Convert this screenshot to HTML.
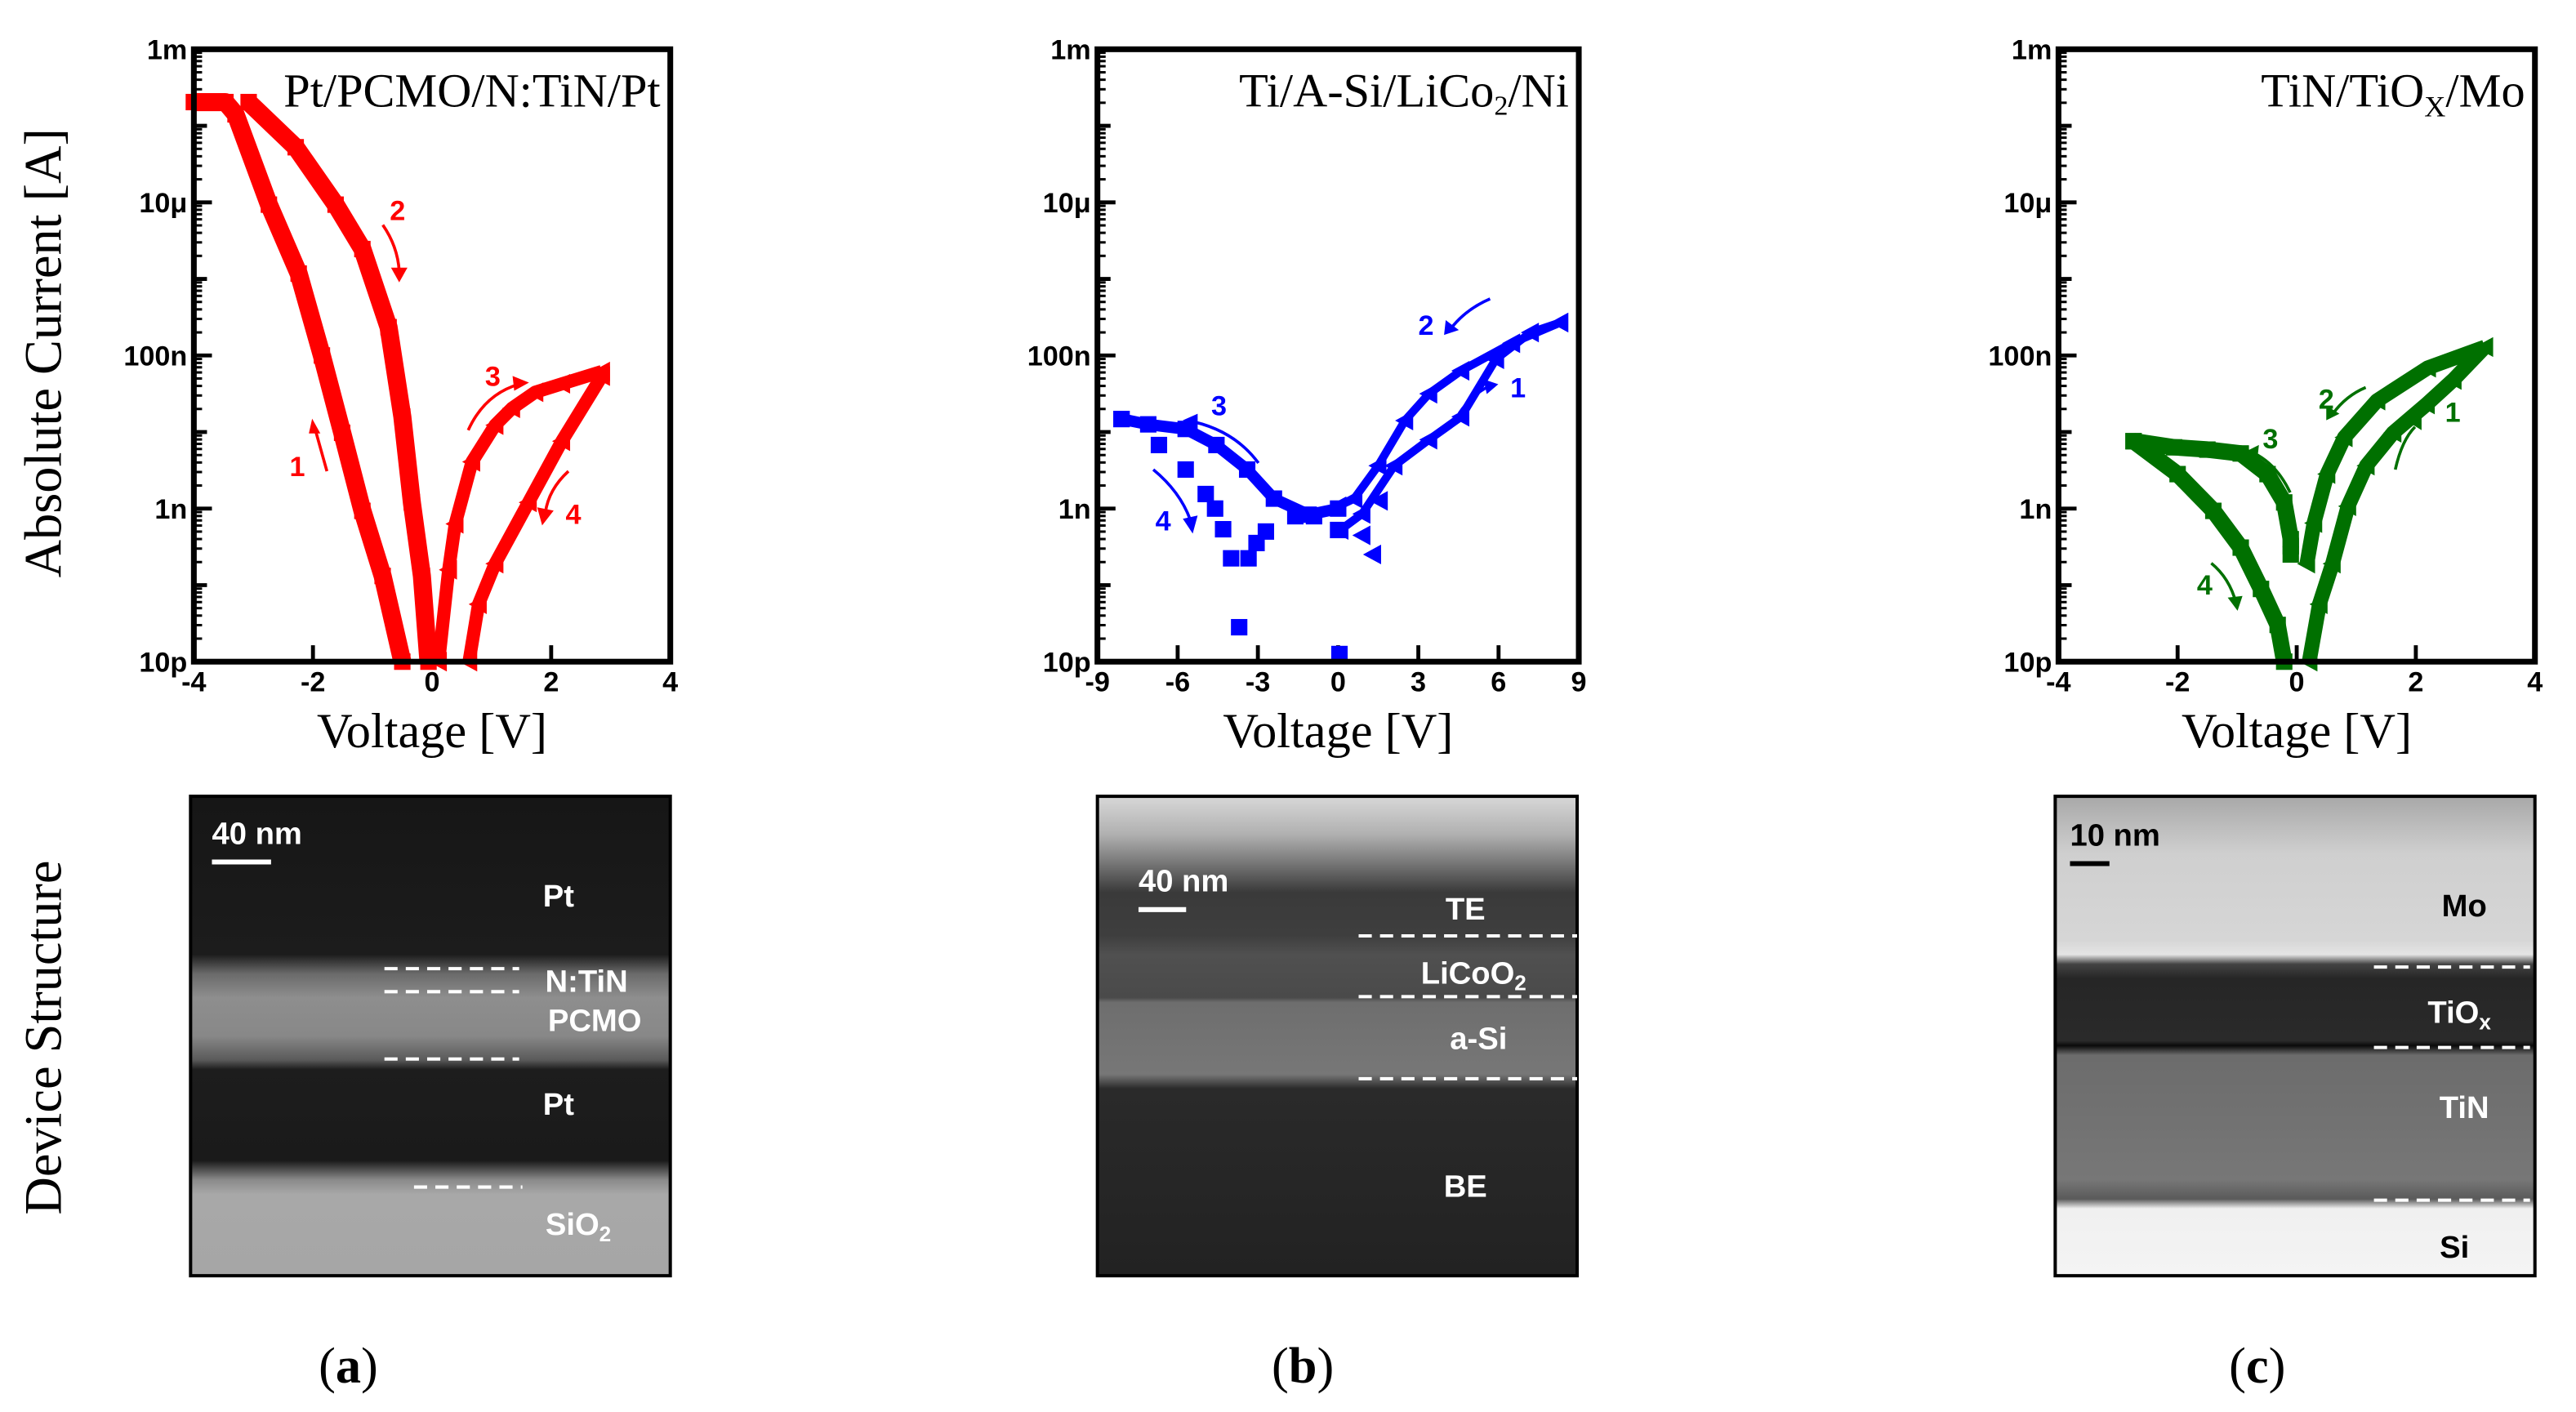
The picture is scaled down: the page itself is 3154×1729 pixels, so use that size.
<!DOCTYPE html>
<html><head><meta charset="utf-8"><style>
html,body{margin:0;padding:0;background:#fff;}
svg{display:block;}
.tk{font-family:"Liberation Sans Narrow","Liberation Sans",sans-serif;font-weight:bold;font-size:17px;}
.ser{font-family:"Liberation Serif",serif;}
.lab{font-family:"Liberation Sans Narrow","Liberation Sans",sans-serif;font-weight:bold;font-size:19px;}
</style></head><body>
<svg id="fig" width="3154" height="1729" viewBox="0 0 1568 860" preserveAspectRatio="none" xmlns="http://www.w3.org/2000/svg">
<defs>
<linearGradient id="gA" x1="0" y1="0" x2="0" y2="1">
<stop offset="0" stop-color="#161616"/><stop offset="0.33" stop-color="#1c1c1c"/><stop offset="0.37" stop-color="#6a6a6a"/><stop offset="0.42" stop-color="#8e8e8e"/><stop offset="0.5" stop-color="#888"/><stop offset="0.55" stop-color="#5a5a5a"/><stop offset="0.57" stop-color="#1d1d1d"/><stop offset="0.76" stop-color="#1a1a1a"/><stop offset="0.8" stop-color="#8a8a8a"/><stop offset="0.83" stop-color="#a8a8a8"/><stop offset="1" stop-color="#a6a6a6"/></linearGradient>
<linearGradient id="gB" x1="0" y1="0" x2="0" y2="1">
<stop offset="0" stop-color="#d8d8d8"/><stop offset="0.08" stop-color="#b0b0b0"/><stop offset="0.13" stop-color="#808080"/><stop offset="0.2" stop-color="#3a3a3a"/><stop offset="0.29" stop-color="#3e3e3e"/><stop offset="0.33" stop-color="#505050"/><stop offset="0.42" stop-color="#4a4a4a"/><stop offset="0.43" stop-color="#6e6e6e"/><stop offset="0.58" stop-color="#777"/><stop offset="0.61" stop-color="#2a2a2a"/><stop offset="1" stop-color="#222"/></linearGradient>
<linearGradient id="gC" x1="0" y1="0" x2="0" y2="1">
<stop offset="0" stop-color="#a8a8a8"/><stop offset="0.12" stop-color="#cfcfcf"/><stop offset="0.3" stop-color="#d6d6d6"/><stop offset="0.33" stop-color="#e4e4e4"/><stop offset="0.35" stop-color="#444"/><stop offset="0.38" stop-color="#262626"/><stop offset="0.51" stop-color="#2a2a2a"/><stop offset="0.52" stop-color="#0a0a0a"/><stop offset="0.54" stop-color="#6c6c6c"/><stop offset="0.8" stop-color="#777"/><stop offset="0.84" stop-color="#5a5a5a"/><stop offset="0.86" stop-color="#f0f0f0"/><stop offset="1" stop-color="#f4f4f4"/></linearGradient>
</defs>
<g id="charts"></g>
<g id="micro"></g>
<text class="ser" x="37" y="215" font-size="32" text-anchor="middle" transform="rotate(-90 37 215)">Absolute Current [A]</text>
<text class="ser" x="37" y="632" font-size="32" text-anchor="middle" transform="rotate(-90 37 632)">Device Structure</text>
<text class="ser" x="212" y="842" font-size="31" text-anchor="middle">(<tspan font-weight="bold">a</tspan>)</text>
<text class="ser" x="793" y="842" font-size="31" text-anchor="middle">(<tspan font-weight="bold">b</tspan>)</text>
<text class="ser" x="1374" y="842" font-size="31" text-anchor="middle">(<tspan font-weight="bold">c</tspan>)</text>
</svg>
<script>
// ---- data (log10 of current [A] vs voltage [V]) ----
const aB1V=[-4,-3.47,-3.3,-2.74,-2.24,-1.85,-1.51,-1.17,-0.83,-0.5];
const aB1I=[-3.69,-3.69,-3.85,-5.03,-5.93,-7.0,-8.01,-9.03,-9.88,-11];
const aB2V=[-3.08,-2.29,-1.62,-1.17,-0.73,-0.5,-0.34,-0.17,-0.06];
const aB2I=[-3.69,-4.28,-5.03,-5.61,-6.63,-7.8,-8.92,-9.88,-11];
const aB3V=[0.11,0.28,0.39,0.67,1.06,1.34,1.73,2.18,2.85];
const aB3I=[-11,-9.8,-9.2,-8.39,-7.91,-7.69,-7.48,-7.37,-7.21];
const aB4V=[2.85,2.18,1.62,1.06,0.78,0.62];
const aB4I=[-7.27,-8.12,-8.92,-9.72,-10.25,-11];

const bB1V=[0.08,0.9,2.1,3.4,4.6,5.9,7.2,8.3];
const bB1I=[-9.28,-9.07,-8.44,-8.1,-7.8,-7.05,-6.7,-6.57];
const bB2V=[8.3,6.5,4.6,3.4,2.5,1.5,0.6,0];
const bB2I=[-6.57,-6.84,-7.2,-7.5,-7.85,-8.44,-8.87,-8.97];
const bScatV=[1.55,0.9,1.3];
const bScatI=[-8.9,-9.35,-9.6];
const bB3V=[0,-1.1,-2.4,-3.4,-4.55,-5.7,-7.1,-8.1];
const bB3I=[-9.0,-9.08,-8.87,-8.49,-8.17,-7.96,-7.9,-7.83];
const bB4V=[-8.1,-6.7,-5.7,-4.95,-4.6,-4.3,-4.0,-3.7,-3.35,-3.05,-2.7,-1.6,-0.9,0,0.05];
const bB4I=[-7.83,-8.17,-8.49,-8.81,-9.0,-9.27,-9.65,-10.55,-9.65,-9.45,-9.3,-9.1,-9.1,-9.28,-10.9];

const cB1V=[0.21,0.38,0.6,0.86,1.17,1.62,2.18,2.63,3.16];
const cB1I=[-11,-10.25,-9.72,-8.97,-8.44,-8.01,-7.64,-7.32,-6.89];
const cB2V=[3.16,2.2,1.35,0.8,0.51,0.29,0.17];
const cB2I=[-6.89,-7.16,-7.59,-8.07,-8.55,-9.19,-9.72];
const cB3V=[-0.1,-0.1,-0.21,-0.49,-0.94,-1.5,-2.06,-2.74];
const cB3I=[-9.6,-9.4,-8.92,-8.55,-8.28,-8.23,-8.2,-8.12];
const cB4V=[-2.74,-2.0,-1.4,-0.94,-0.6,-0.32,-0.21];
const cB4I=[-8.12,-8.55,-9.03,-9.51,-10.05,-10.52,-11];

const yTickLabels=["1m","10μ","100n","1n","10p"];
const yTickVals=[-3,-5,-7,-9,-11];
const xTicksA=[-4,-2,0,2,4];
const xTicksB=[-9,-6,-3,0,3,6,9];
const xTicksC=[-4,-2,0,2,4];

const NS="http://www.w3.org/2000/svg";
function mk(tag,attrs,parent){const e=document.createElementNS(NS,tag);for(const k in attrs)e.setAttribute(k,attrs[k]);parent.appendChild(e);return e;}
const charts=document.getElementById('charts');

function makeChart(id,x0,x1,vmin,vmax,xt,color,title,series,arrows){
  const y0=30,y1=403,lmin=-11,lmax=-3;
  const sx=v=>x0+(v-vmin)/(vmax-vmin)*(x1-x0);
  const sy=l=>y1-(l-lmin)/(lmax-lmin)*(y1-y0);
  const g=mk('g',{},charts);
  
  
  for(let d=lmin;d<lmax;d++){for(let m=1;m<10;m++){const l=d+Math.log10(m);const y=sy(l);const major=(m===1&&((d+11)%2===0));const len=m===1?(major?11:8):5;
    const t=mk('line',{x1:x0,x2:x0+len,y1:y,y2:y,stroke:'#000','stroke-width':m===1?2.4:1.5},g);}}
  yTickVals.forEach((v,i)=>{const t=mk('text',{x:x0-4,y:sy(v)+6,'text-anchor':'end',class:'tk'},g);t.textContent=yTickLabels[i];});
  xt.forEach(v=>{const x=sx(v);if(v!==vmin&&v!==vmax){const t=mk('line',{x1:x,x2:x,y1:y1,y2:y1-10,stroke:'#000','stroke-width':2.4},g);}
    const l=mk('text',{x:x,y:y1+18,'text-anchor':'middle',class:'tk'},g);l.textContent=String(v);});
  series.forEach(s=>{
    const pts=s.v.map((v,i)=>sx(v).toFixed(1)+','+sy(s.i[i]).toFixed(1)).join(' ');
    if(s.line){const p=mk('polyline',{points:pts,fill:'none',stroke:color,'stroke-width':s.w||10,'stroke-linejoin':'round'},g);}
    s.v.forEach((v,i)=>{const x=sx(v),y=sy(s.i[i]);let m;
      if(s.mark==='sq'){m=mk('rect',{x:x-5,y:y-5,width:10,height:10,fill:color},g);}
      else{m=mk('polygon',{points:`${x-6},${y} ${x+5},${y-6} ${x+5},${y+6}`,fill:color},g);}
      });
  });
  const f=mk('rect',{x:x0,y:y0,width:x1-x0,height:y1-y0,fill:'none',stroke:'#000','stroke-width':3.5},g);
  
  const tt=mk('text',{x:x1-6,y:y0+35,'text-anchor':'end',class:'ser','font-size':29},g);
  tt.innerHTML=title;
  const xl=mk('text',{x:(x0+x1)/2,y:y1+52,'text-anchor':'middle',class:'ser','font-size':30},g);
  xl.textContent='Voltage [V]';
  arrows.forEach(a=>{const p=mk('path',{d:a.d,fill:'none',stroke:color,'stroke-width':1.8},g);
    const h=mk('polygon',{points:a.h,fill:color},g);
    const n=mk('text',{x:a.nx,y:a.ny,'text-anchor':'middle',class:'tk','font-size':20,fill:color},g);n.textContent=a.n;});
}

makeChart('chart-a',118,408,-4,4,xTicksA,'#ff0000','Pt/PCMO/N:TiN/Pt',[
 {name:'branch1',v:aB1V,i:aB1I,mark:'sq',line:true,w:11},
 {name:'branch2',v:aB2V,i:aB2I,mark:'sq',line:true,w:11},
 {name:'branch3',v:aB3V,i:aB3I,mark:'tri',line:true,w:8},
 {name:'branch4',v:aB4V,i:aB4I,mark:'tri',line:true,w:8}],
 [{d:'M233,137 Q242,150 243,165',h:'238,163 248,163 243,172',n:'2',nx:242,ny:134},
  {d:'M285,262 Q295,240 316,234',h:'312,229 322,233 313,238',n:'3',nx:300,ny:235},
  {d:'M199,287 L192,262',h:'188,264 195,264 190,255',n:'1',nx:181,ny:290},
  {d:'M346,287 Q334,298 332,312',h:'327,309 337,311 330,320',n:'4',nx:349,ny:319}]);

makeChart('chart-b',668,961,-9,9,xTicksB,'#0000ff','Ti/A-Si/LiCo<tspan font-size="17" dy="5">2</tspan><tspan dy="-5">/Ni</tspan>',[
 {name:'branch1',v:bB1V,i:bB1I,mark:'tri',line:true,w:5},
 {name:'branch2',v:bB2V,i:bB2I,mark:'tri',line:true,w:5},
 {name:'scatter',v:bScatV,i:bScatI,mark:'tri'},
 {name:'branch3',v:bB3V,i:bB3I,mark:'sq',line:true,w:7},
 {name:'branch4',v:bB4V,i:bB4I,mark:'sq'}],
 [{d:'M907,182 Q893,188 884,199',h:'880,195 888,201 879,204',n:'2',nx:868,ny:204},
  {d:'M888,252 Q896,240 907,235',h:'903,231 912,234 905,240',n:'1',nx:924,ny:242},
  {d:'M766,282 Q752,263 727,257',h:'729,252 729,262 720,256',n:'3',nx:742,ny:253},
  {d:'M702,286 Q719,300 725,318',h:'720,316 729,314 726,325',n:'4',nx:708,ny:323}]);

makeChart('chart-c',1253,1543,-4,4,xTicksC,'#007000','TiN/TiO<tspan font-size="18" dy="6">X</tspan><tspan dy="-6">/Mo</tspan>',[
 {name:'branch1',v:cB1V,i:cB1I,mark:'tri',line:true,w:9},
 {name:'branch2',v:cB2V,i:cB2I,mark:'tri',line:true,w:9},
 {name:'branch3',v:cB3V,i:cB3I,mark:'sq',line:true,w:10},
 {name:'branch4',v:cB4V,i:cB4I,mark:'sq',line:true,w:10}],
 [{d:'M1440,236 Q1428,241 1420,252',h:'1416,247 1424,252 1416,256',n:'2',nx:1416,ny:249},
  {d:'M1458,286 Q1462,268 1470,260',h:'1466,257 1474,262 1474,253',n:'1',nx:1493,ny:257},
  {d:'M1394,300 Q1386,283 1372,276',h:'1375,271 1374,280 1367,275',n:'3',nx:1382,ny:273},
  {d:'M1346,343 Q1357,352 1361,367',h:'1356,364 1365,363 1362,372',n:'4',nx:1342,ny:362}]);

const micro=document.getElementById('micro');
function panel(id,x,grad,labels,dashes,scale){
  const g=mk('g',{},micro);
  const r=mk('rect',{x:x,y:485,width:292,height:292,fill:`url(#${grad})`,stroke:'#000','stroke-width':2},g);
  
  dashes.forEach(d=>{const l=mk('line',{x1:d[0],x2:d[1],y1:d[2],y2:d[2],stroke:'#fff','stroke-width':2,'stroke-dasharray':'8 5'},g);});
  labels.forEach(L=>{const t=mk('text',{x:L[1],y:L[2],'text-anchor':'middle',class:'lab',fill:L[3]||'#fff'},g);t.innerHTML=L[0];});
  const sb=mk('line',{x1:scale[0],x2:scale[1],y1:scale[2]+11,y2:scale[2]+11,stroke:scale[4],'stroke-width':3},g);
  const st=mk('text',{x:scale[0],y:scale[2],class:'lab',fill:scale[4]},g);st.textContent=scale[3];
}
panel('tem-a',116,'gA',[['Pt',340,552],['N:TiN',357,604],['PCMO',362,628],['Pt',340,679],['SiO<tspan font-size="13" dy="4">2</tspan>',352,752]],
 [[234,316,590],[234,316,604],[234,316,645],[252,318,723]],[129,165,514,'40 nm','#fff']);
panel('tem-b',668,'gB',[['TE',892,560],['LiCoO<tspan font-size="13" dy="4">2</tspan>',897,599],['a-Si',900,639],['BE',892,729]],
 [[827,960,570],[827,960,607],[827,960,657]],[693,722,543,'40 nm','#fff']);
panel('tem-c',1251,'gC',[['Mo',1500,558,'#000'],['TiO<tspan font-size="13" dy="4">x</tspan>',1497,623],['TiN',1500,681],['Si',1494,766,'#000']],
 [[1445,1540,589],[1445,1540,638],[1445,1540,731]],[1260,1284,515,'10 nm','#000']);
</script>
</body></html>
